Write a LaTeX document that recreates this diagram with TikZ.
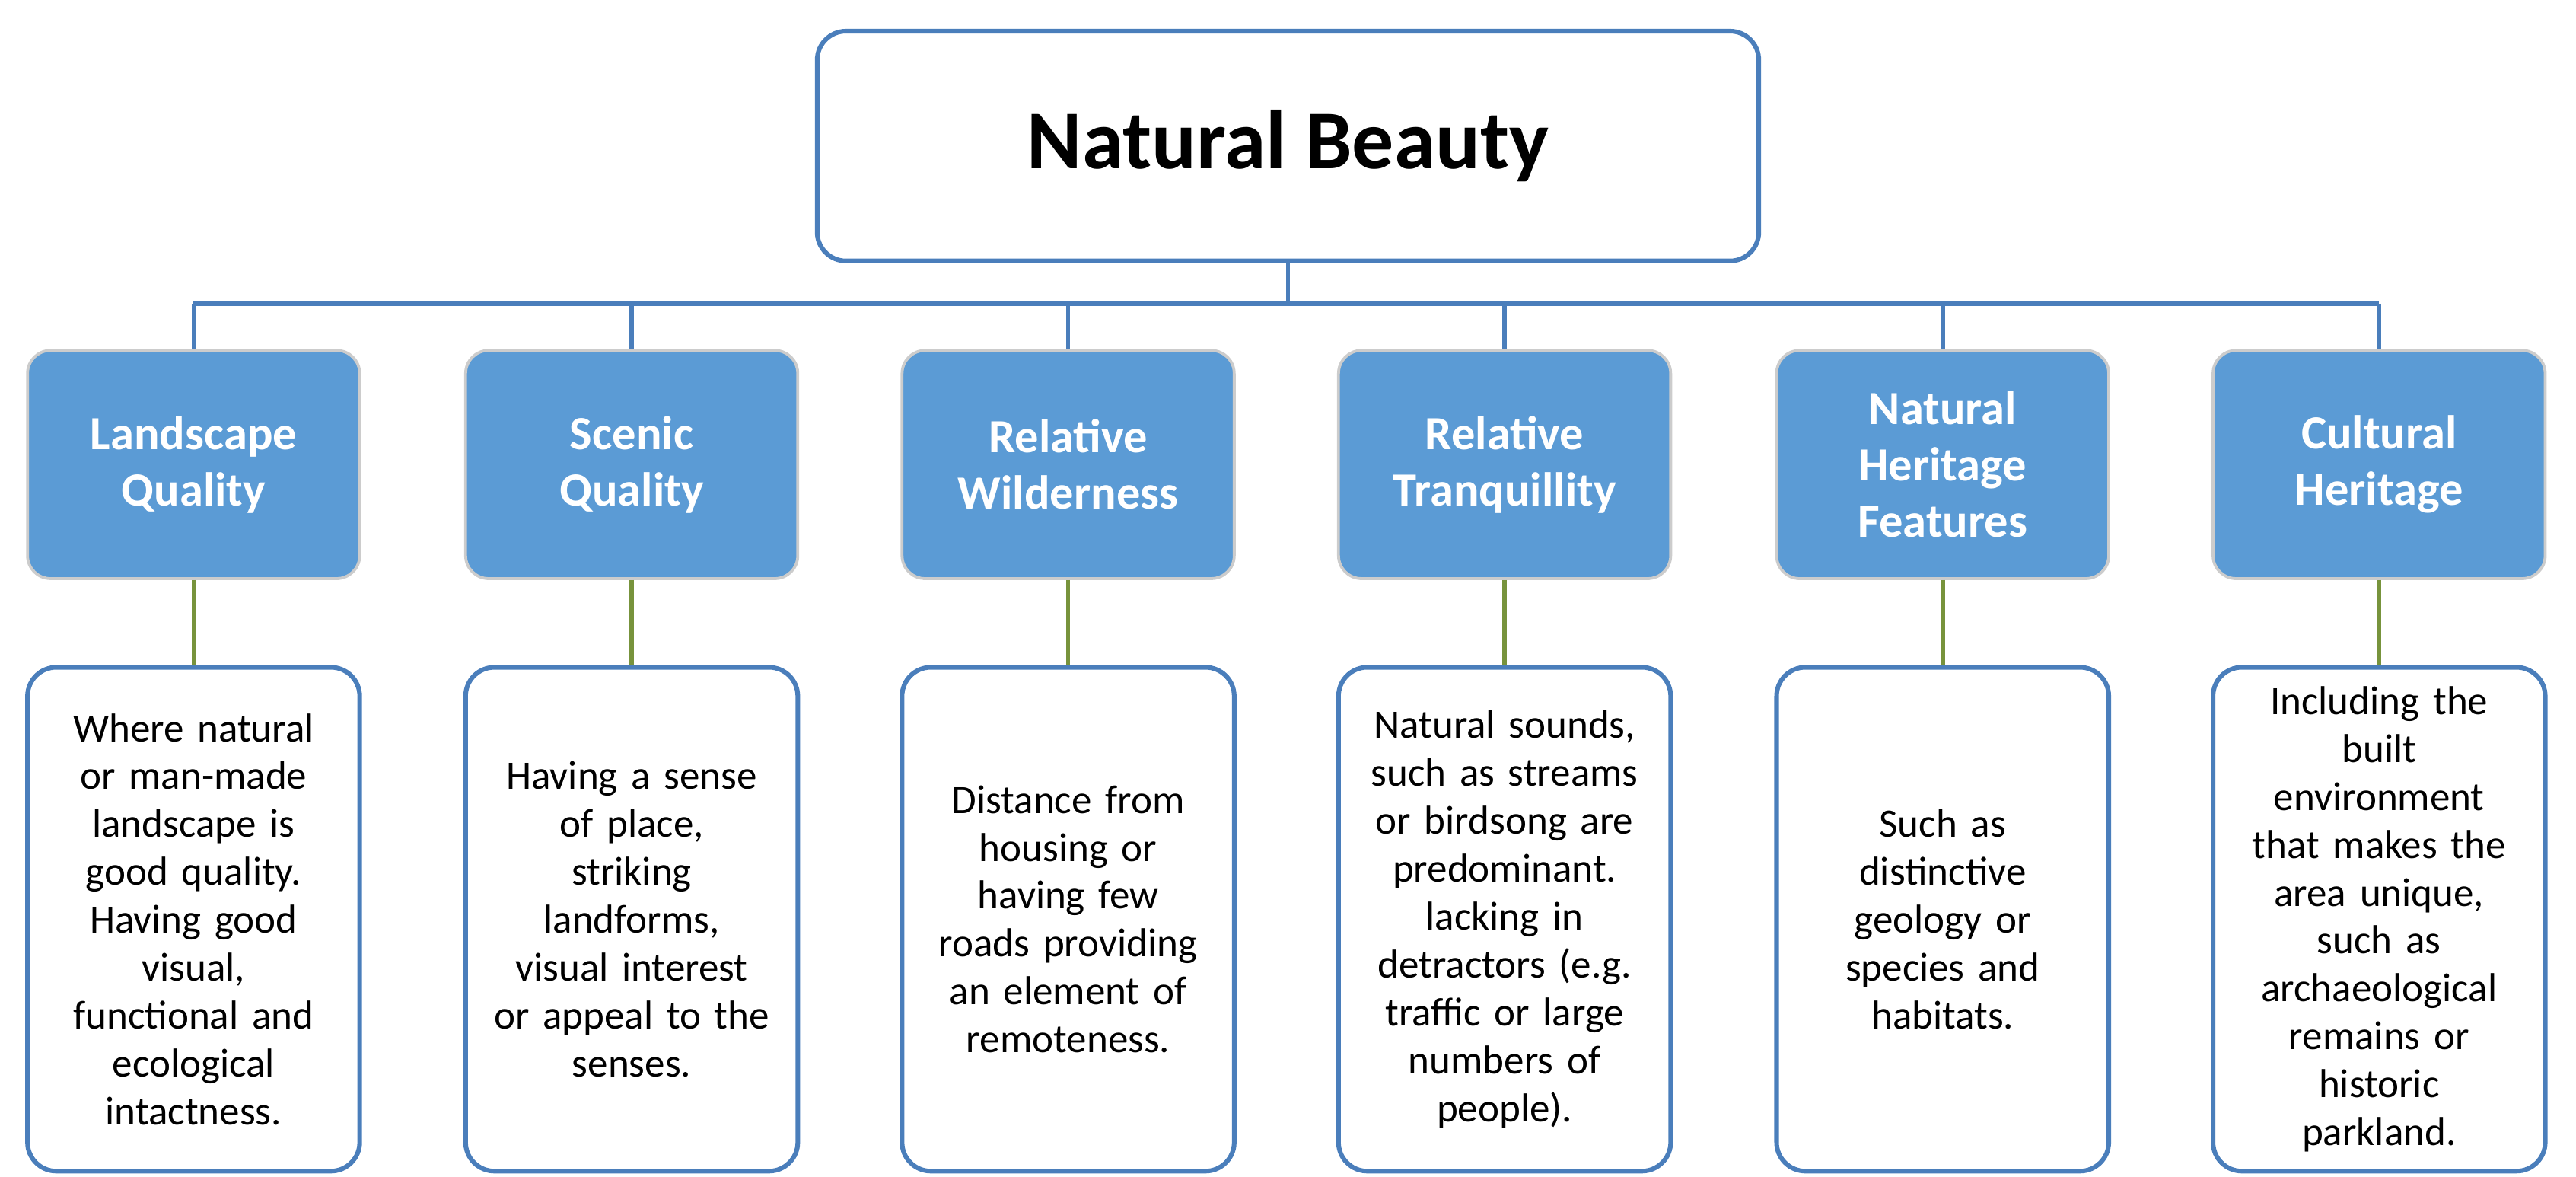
\documentclass[tikz,border=0pt]{standalone}
\usepackage{fontspec}
\setmainfont{Carlito}
\begin{document}
\begin{tikzpicture}[x=0.02cm,y=-0.02cm,
 top/.style={draw=linkblue,line width=1.6pt,rounded corners=10pt,fill=white,minimum width=11.48cm,minimum height=2.8cm,font=\fontsize{29}{33}\selectfont\bfseries},
 head/.style={draw=gray!40,line width=1pt,rounded corners=8pt,fill=headblue,text=white,minimum width=4.05cm,minimum height=2.78cm,align=center,font=\fontsize{16.5}{19.5}\selectfont\bfseries,text width=3.8cm},
 body/.style={draw=linkblue,line width=1.6pt,rounded corners=10pt,fill=white,minimum width=4.05cm,minimum height=6.14cm,align=center,text width=3.8cm,font=\fontsize{14}{16.6}\selectfont},
 link/.style={draw=linkblue,line width=1.5pt},
 glink/.style={draw=greenl,line width=1.5pt}]
\definecolor{linkblue}{HTML}{4A7EBB}
\definecolor{headblue}{HTML}{5B9BD5}
\definecolor{greenl}{HTML}{77933C}
\useasboundingbox (0,0) rectangle (1570,716.6);
\node[top] (nb) at (785,89) {Natural Beauty};
\coordinate (bar) at (785,185);
\foreach \i/\x/\h/\b in {
1/118/{Landscape\\Quality}/{Where natural\\or man-made\\landscape is\\good quality.\\Having good\\visual,\\functional and\\ecological\\intactness.},
2/385/{Scenic\\Quality}/{Having a sense\\of place,\\striking\\landforms,\\visual interest\\or appeal to the\\senses.},
3/651/{Relative\\Wilderness}/{Distance from\\housing or\\having few\\roads providing\\an element of\\remoteness.},
4/917/{Relative\\Tranquillity}/{Natural sounds,\\such as streams\\or birdsong are\\predominant.\\lacking in\\detractors (e.g.\\traffic or large\\numbers of\\people).},
5/1184/{Natural\\Heritage\\Features}/{Such as\\distinctive\\geology or\\species and\\habitats.},
6/1450/{Cultural\\Heritage}/{Including the\\built\\environment\\that makes the\\area unique,\\such as\\archaeological\\remains or\\historic\\parkland.}}{
 \node[head] (h\i) at (\x,283) {\h};
 \node[body] (b\i) at (\x,560) {\b};
 \coordinate (c\i) at (\x,185);
 \draw[glink] (h\i) -- (b\i);
}
\draw[link] (nb) -- (bar);
\draw[link] (c1) -- (c6);
\foreach \i in {1,...,6}{\draw[link] (c\i) -- (h\i);}
\end{tikzpicture}
\end{document}
